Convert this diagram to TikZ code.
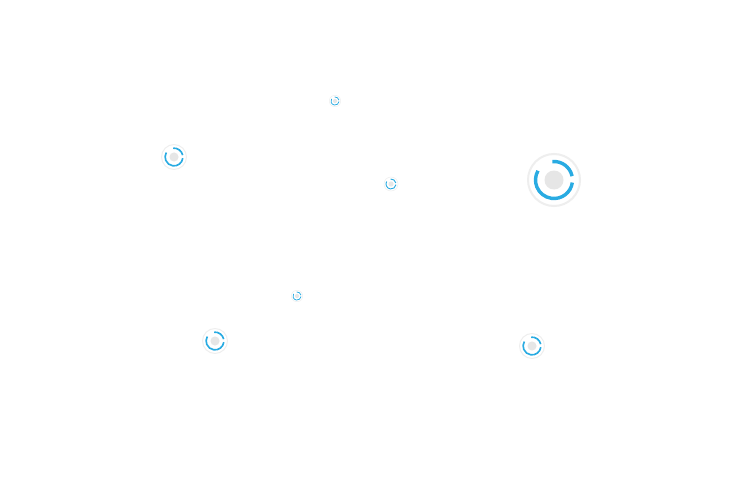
\documentclass[tikz,border=0pt]{standalone}
\definecolor{loadblue}{HTML}{29ABE2}
\definecolor{ringgray}{HTML}{EEEEEE}
\definecolor{coregray}{HTML}{E6E6E6}
\tikzset{
  loader/.pic={
    \fill[white,draw=ringgray,line width=2*#1 pt] (0,0) circle (26*#1);
    \fill[coregray] (0,0) circle (9.5*#1);
    \draw[loadblue,line width=3.4*#1 pt] (95:18.5*#1) arc (95:12:18.5*#1);
    \draw[loadblue,line width=3.4*#1 pt] (-8:18.5*#1) arc (-8:-210:18.5*#1);
  }
}
\begin{document}
\begin{tikzpicture}[x=1pt,y=1pt]
\useasboundingbox[fill=white] (0,0) rectangle (736,491);
\pic (big) at (554,311) {loader=1};
\pic (a) at (174,334) {loader=0.48};
\pic (b) at (215,150) {loader=0.48};
\pic (c) at (532,145) {loader=0.48};
\pic (d) at (391,307) {loader=0.27};
\pic (e) at (335,390) {loader=0.22};
\pic (f) at (297,195) {loader=0.22};
\end{tikzpicture}
\end{document}
